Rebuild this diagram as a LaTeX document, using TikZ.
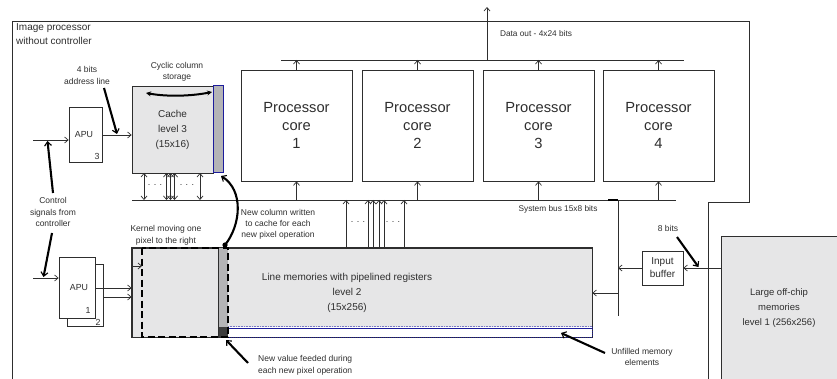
\documentclass[tikz,border=0pt]{standalone}
\usepackage{fontspec}
\setmainfont{Liberation Sans}
\usetikzlibrary{arrows.meta,calc}

\definecolor{inkc}{HTML}{2E2E2E}
\definecolor{memfill}{HTML}{E6E6E7}
\definecolor{stripfill}{HTML}{B4B4B6}
\definecolor{darkcell}{HTML}{3C3C3C}
\definecolor{unfilled}{HTML}{1C1C9C}

\tikzset{
  ln/.style={draw=inkc, line width=0.7pt},
  box/.style={ln, rectangle, inner sep=0pt, align=center, text=inkc},
  arr/.style={ln, -{Straight Barb[length=3.5pt,width=6pt]}},
  darr/.style={ln, {Straight Barb[length=3.5pt,width=6pt]}-{Straight Barb[length=3.5pt,width=6pt]}},
  pointer/.style={draw=black, line width=2.1pt, -{Straight Barb[length=4pt,width=7pt,line width=1.1pt]}},
  lbl/.style={inner sep=0pt, align=center, text=inkc},
  small/.style={font=\fontsize{8.5}{11.5}\selectfont},
}

\begin{document}
\begin{tikzpicture}[x=1pt,y=-1pt]
\useasboundingbox (0,0) rectangle (837,379);
\clip (0,0) rectangle (837,379);

% outer chip boundary
\draw[ln] (12,390) -- (12,21) -- (749,21) -- (749,202) -- (708,202) -- (708,390);
\node[lbl, anchor=north west, align=left, font=\fontsize{10}{14}\selectfont] (chip) at (16,23.5) {Image processor\\without controller};

% processor cores
\foreach \i/\cx in {1/296.5, 2/417.5, 3/538.5, 4/658.5}{
  \node[box, minimum width=111pt, minimum height=111pt,
        font=\fontsize{14.7}{18}\selectfont] (core\i) at (\cx,125.5) {Processor\\core\\\i};
}

% output bus and data out
\coordinate (obL) at (281,60);
\coordinate (obR) at (684,60);
\draw[ln] (obL) -- (obR);
\coordinate (dout) at (487,60);
\coordinate (doutEnd) at (487,7);
\draw[arr] (dout) -- (doutEnd);
\node[lbl, font=\fontsize{8.3}{10}\selectfont] (doutlbl) at (536,34) {Data out - 4x24 bits};

% system bus
\coordinate (sbL) at (132,200);
\coordinate (sbR) at (676,200);
\draw[ln] (sbL) -- (sbR);
\draw[draw=black, line width=1.6pt] (608,200) -- (618,200);
\node[lbl, font=\fontsize{8.3}{10}\selectfont] (sblbl) at (558,209) {System bus 15x8 bits};

\foreach \i in {1,2,3,4}{
  \draw[arr] (core\i.south |- sbL) -- (core\i.south);
  \draw[arr] (core\i.north) -- (core\i.north |- obL);
}

% cache level 3
\node[box, fill=memfill, minimum width=81pt, minimum height=87pt,
      font=\fontsize{10}{15}\selectfont] (cache) at (172.5,129.5) {Cache\\level 3\\(15x16)};
\node[draw=unfilled, line width=1pt, fill=stripfill, minimum width=10pt, minimum height=87pt,
      inner sep=0pt] (cstrip) at (218,129.5) {};
\draw[draw=black, line width=2pt,
      {Stealth[length=5pt,width=5pt]}-{Stealth[length=5pt,width=5pt]}]
  (146,93) .. controls (168,97) and (192,96) .. (212,92);
\node[lbl, small, font=\fontsize{8.5}{11}\selectfont] (cyclbl) at (177,71.5) {Cyclic column\\storage};

% cache <-> system bus
\foreach \x in {144,166.5,170.5,174.5,200}{
  \draw[darr] (\x,173) -- (\x,200);
}
\node[lbl, font=\fontsize{9}{9}\selectfont] (cdots1) at (155,185) {. . .};
\node[lbl, font=\fontsize{9}{9}\selectfont] (cdots2) at (187,185) {. . .};

% APU 3
\node[box, fill=white, minimum width=33pt, minimum height=55pt] (apu3) at (85.5,134.5) {};
\node[lbl, font=\fontsize{8.8}{10}\selectfont] (apu3t) at (84,135) {APU};
\node[lbl, font=\fontsize{8.8}{10}\selectfont] (apu3n) at (97,156.5) {3};
\coordinate (in3) at (33,140);
\draw[arr] (in3) -- (in3 -| apu3.west);
\coordinate (out3) at (102,135);
\draw[arr] (out3) -- (out3 -| cache.west);
\node[lbl, small, font=\fontsize{8.5}{12}\selectfont] (addrlbl) at (87,75) {4 bits\\address line};
\coordinate (addrS) at (104,88);
\coordinate (addrE) at (117,134);
\draw[pointer] (addrS) -- (addrE);

% control signals
\node[lbl, small] (ctrllbl) at (53,212) {Control\\signals from\\controller};
\coordinate (ctl1S) at (53,193);
\coordinate (ctl1E) at (47.5,141);
\draw[pointer] (ctl1S) -- (ctl1E);
\coordinate (ctl2S) at (52,233);
\coordinate (ctl2E) at (43.5,277);
\draw[pointer] (ctl2S) -- (ctl2E);

% line memories level 2
\node[box, fill=memfill, minimum width=460pt, minimum height=89pt] (lmem) at (362,292.5) {};
\node[lbl, font=\fontsize{10}{15}\selectfont] (lmemt) at (347,293)
  {Line memories with pipelined registers\\level 2\\(15x256)};
\fill[stripfill] (218,248) rectangle (228,327);
\fill[darkcell] (218,327) rectangle (228,337);
\draw[ln] (218,248) -- (218,337);
\draw[ln] (lmem.north west) rectangle (lmem.south east);
% unfilled memory elements
\fill[white] (228,327) rectangle (592,337);
\draw[unfilled, line width=1.6pt] (228,328.5) -- (592,328.5);
\draw[unfilled, line width=1pt, densely dotted] (592,327) -- (592,337) -- (228,337);
\draw[unfilled!60, line width=0.6pt, densely dotted] (228,326.5) -- (592,326.5);

% kernel window
\draw[draw=black, line width=2.1pt, dash pattern=on 7pt off 3.5pt] (142,248) rectangle (228,337);
\coordinate (kS) at (132,266);
\coordinate (kE) at (142,266);
\draw[arr] (kS) -- (kE);
\node[lbl, small, font=\fontsize{8.5}{12}\selectfont] (kernlbl) at (166,235) {Kernel moving one\\pixel to the right};

% APU 1 and 2
\node[box, fill=white, minimum width=36pt, minimum height=62pt] (apu2) at (85,295) {};
\node[box, fill=white, minimum width=36pt, minimum height=61pt] (apu1) at (77,287.5) {};
\node[lbl, font=\fontsize{8.8}{10}\selectfont] (apu1t) at (79,288) {APU};
\node[lbl, font=\fontsize{8.8}{10}\selectfont] (apu1n) at (88,310) {1};
\node[lbl, font=\fontsize{8.8}{10}\selectfont] (apu2n) at (98,322) {2};
\coordinate (in1) at (33,278);
\draw[arr] (in1) -- (in1 -| apu1.west);
\coordinate (o1) at (95,288);
\coordinate (o2) at (103,297);
\draw[arr] (o1) -- (o1 -| lmem.west);
\draw[arr] (o2) -- (o2 -| lmem.west);

% line memories -> system bus
\foreach \x in {346,368,373,379,384,404}{
  \draw[arr] (\x,248) -- (\x,200);
}
\node[lbl, font=\fontsize{9}{9}\selectfont] (ldots1) at (358,222) {. . .};
\node[lbl, font=\fontsize{9}{9}\selectfont] (ldots2) at (393,222) {. . .};

% new column written back to the cache
\coordinate (ncS) at (225,245);
\coordinate (ncE) at (221,176);
\fill[black] (ncS) circle (2.6pt);
\draw[pointer] (ncS) .. controls (241,225) and (244,190) .. (ncE);
\node[lbl, small, font=\fontsize{8.5}{11}\selectfont] (nclbl) at (278,224) {New column written\\to cache for each\\new pixel operation};

% new value feed
\coordinate (nvS) at (248,363);
\coordinate (nvE) at (226,340);
\draw[pointer] (nvS) -- (nvE);
\node[lbl, small, anchor=west, align=left, font=\fontsize{8.5}{12}\selectfont] (nvlbl) at (258,365) {New value feeded during\\each new pixel operation};

% unfilled label
\coordinate (ufS) at (605,353);
\coordinate (ufE) at (561,333);
\draw[pointer] (ufS) -- (ufE);
\node[lbl, small, font=\fontsize{8.5}{11}\selectfont] (uflbl) at (642,356.5) {Unfilled memory\\elements};

% off-chip memory and input buffer
\node[box, fill=memfill, minimum width=124pt, minimum height=154pt, anchor=north west] (ext) at (721,236) {};
\node[lbl, font=\fontsize{9.5}{15}\selectfont] (extt) at (779,308) {Large off-chip\\memories\\level 1 (256x256)};
\node[box, fill=white, minimum width=41pt, minimum height=34pt,
      font=\fontsize{10}{13}\selectfont] (ibuf) at (662.5,268) {Input\\buffer};
\coordinate (feedTop) at (618,200);
\coordinate (feedBot) at (618,316);
\draw[ln] (feedTop) -- (feedBot);
\draw[arr] (ext.west |- ibuf) -- (ibuf.east);
\draw[arr] (ibuf.west) -- (ibuf.west -| feedTop);
\coordinate (feedL) at (618,293);
\draw[arr] (feedL) -- (feedL -| lmem.east);
\node[lbl, small] (bitslbl) at (668,228) {8 bits};
\coordinate (b8S) at (677,237);
\coordinate (b8E) at (698.5,267);
\draw[pointer] (b8S) -- (b8E);
\end{tikzpicture}
\end{document}
